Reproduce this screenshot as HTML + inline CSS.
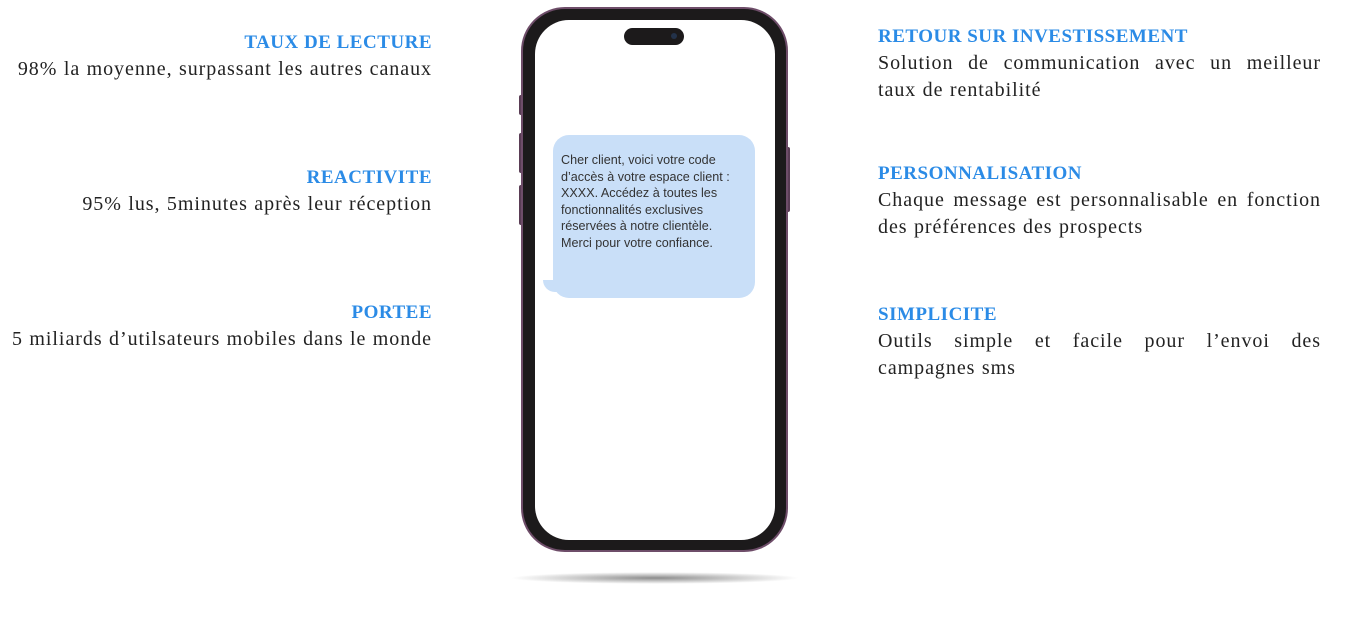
<!DOCTYPE html>
<html><head><meta charset="utf-8"><style>
body{margin:0;width:1365px;height:635px;background:#fff;position:relative;overflow:hidden;font-family:"Liberation Serif",serif;}
.b{position:absolute;font-size:20px;line-height:27px;color:#222;letter-spacing:0.95px;word-spacing:0.5px;}
.h{color:#2b8be6;font-weight:bold;font-size:19px;display:block;letter-spacing:0.5px;word-spacing:0;}
.l{right:933px;text-align:right;white-space:nowrap;}
.r{left:878px;width:443px;text-align:justify;}
</style></head><body>
<div class="b l" style="top:29px"><span class="h">TAUX DE LECTURE</span>98% la moyenne, surpassant les autres canaux</div>
<div class="b l" style="top:164px"><span class="h">REACTIVITE</span>95% lus, 5minutes après leur réception</div>
<div class="b l" style="top:299px"><span class="h">PORTEE</span>5 miliards d’utilsateurs mobiles dans le monde</div>
<div class="b r" style="top:23px"><span class="h">RETOUR SUR INVESTISSEMENT</span>Solution de communication avec un meilleur taux de rentabilité</div>
<div class="b r" style="top:160px"><span class="h">PERSONNALISATION</span>Chaque message est personnalisable en fonction des préférences des prospects</div>
<div class="b r" style="top:301px"><span class="h">SIMPLICITE</span>Outils simple et facile pour l’envoi des campagnes sms</div>

<div style="position:absolute;left:510px;top:572px;width:290px;height:12px;border-radius:50%;background:radial-gradient(ellipse at center,rgba(0,0,0,.45),rgba(0,0,0,0) 70%);"></div>
<div style="position:absolute;left:519px;top:95px;width:4px;height:20px;background:#5a3d55;border-radius:2px"></div>
<div style="position:absolute;left:519px;top:133px;width:4px;height:40px;background:#5a3d55;border-radius:2px"></div>
<div style="position:absolute;left:519px;top:185px;width:4px;height:40px;background:#5a3d55;border-radius:2px"></div>
<div style="position:absolute;left:786px;top:147px;width:4px;height:65px;background:#5a3d55;border-radius:2px"></div>
<div style="position:absolute;left:521px;top:7px;width:267px;height:545px;box-sizing:border-box;border-radius:44px;background:#1c1a1b;border:2px solid #6e4d69;"></div>
<div style="position:absolute;left:535px;top:20px;width:240px;height:520px;border-radius:34px;background:#fff;"></div>
<div style="position:absolute;left:624px;top:28px;width:60px;height:17px;border-radius:9px;background:#1c1a1b;"></div>
<div style="position:absolute;left:671px;top:33px;width:6px;height:6px;border-radius:50%;background:#23324a;"></div>
<div style="position:absolute;left:543px;top:280px;width:20px;height:12px;background:#c9dff8;border-radius:0 0 0 12px;"></div>
<div style="position:absolute;left:553px;top:135px;width:202px;height:163px;border-radius:16px;background:#c9dff8;"></div>
<div style="position:absolute;left:561px;top:152px;width:180px;font-family:'Liberation Sans',sans-serif;font-size:12.6px;line-height:16.5px;color:#333;">Cher client, voici votre code d’accès à votre espace client : XXXX. Accédez à toutes les fonctionnalités exclusives réservées à notre clientèle. Merci pour votre confiance.</div>
</body></html>
